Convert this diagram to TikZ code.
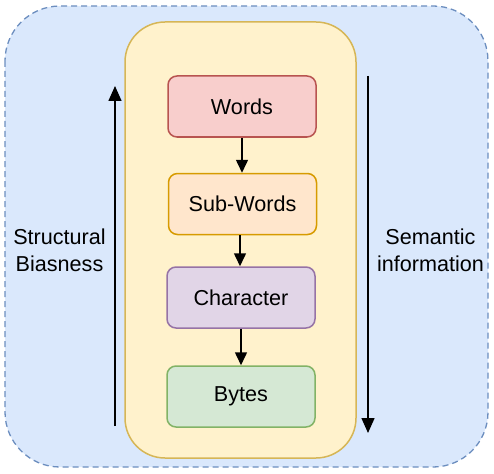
\documentclass[tikz,border=0pt]{standalone}
\usepackage{fontspec}
\setmainfont{Liberation Sans}
\usetikzlibrary{arrows.meta}
\definecolor{outerfill}{HTML}{DAE8FC}
\definecolor{outerdraw}{HTML}{6C8EBF}
\definecolor{midfill}{HTML}{FFF2CC}
\definecolor{middraw}{HTML}{D6B656}
\definecolor{redfill}{HTML}{F8CECC}
\definecolor{reddraw}{HTML}{B85450}
\definecolor{orfill}{HTML}{FFE6CC}
\definecolor{ordraw}{HTML}{D79B00}
\definecolor{purfill}{HTML}{E1D5E7}
\definecolor{purdraw}{HTML}{9673A6}
\definecolor{grfill}{HTML}{D5E8D4}
\definecolor{grdraw}{HTML}{82B366}
\tikzset{
  lvl/.style={rounded corners=9pt, minimum width=148pt, minimum height=61pt, line width=1.5pt, inner sep=0pt, font=\fontsize{21.6}{26}\selectfont},
  flow/.style={-{Triangle[length=13pt,width=12pt]}, line width=1.5pt, black},
  bigarrow/.style={-{Triangle[length=15pt,width=13pt]}, line width=1.5pt, black},
  sidelabel/.style={align=center, font=\fontsize{21.6}{27}\selectfont, inner sep=0pt}
}
\begin{document}
\begin{tikzpicture}[x=1pt,y=-1pt]
\useasboundingbox (0,0) rectangle (494,473);
\draw[fill=outerfill, draw=outerdraw, dashed, dash pattern=on 6pt off 4pt, line width=1.3pt, rounded corners=55pt] (5,6) rectangle (488,467);
\draw[fill=midfill, draw=middraw, line width=1.5pt, rounded corners=40pt] (125,22) rectangle (356,458);
\node[lvl, fill=redfill, draw=reddraw] (words) at (242,106.5) {Words};
\node[lvl, fill=orfill, draw=ordraw] (sub) at (242.5,204) {Sub-Words};
\node[lvl, fill=purfill, draw=purdraw] (char) at (241,297.5) {Character};
\node[lvl, fill=grfill, draw=grdraw] (bytes) at (241,396.5) {Bytes};
\draw[flow] (words.south -| 242,0) -- (sub.north -| 242,0);
\draw[flow] (sub.south -| 240,0) -- (char.north -| 240,0);
\draw[flow] (char) -- (bytes);
\coordinate (lb) at (115,426);
\coordinate (lt) at (115,86);
\coordinate (rt) at (368,76);
\coordinate (rb) at (368,433);
\draw[bigarrow] (lb) -- (lt);
\draw[bigarrow] (rt) -- (rb);
\node[sidelabel] (sb) at (59.5,250) {Structural\\Biasness};
\node[sidelabel] (si) at (430.5,250) {Semantic\\information};
\end{tikzpicture}
\end{document}
